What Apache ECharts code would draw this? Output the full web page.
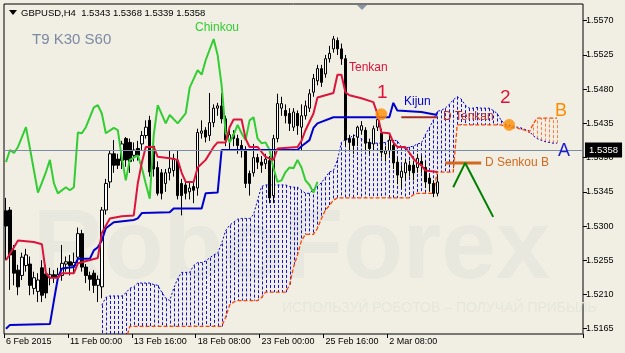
<!DOCTYPE html>
<html><head><meta charset="utf-8">
<script src="https://cdn.jsdelivr.net/npm/echarts@6.0.0/dist/echarts.min.js"></script>
<style>html,body{margin:0;padding:0;background:#f1efe3}#c{width:625px;height:353px}</style>
</head><body><div id="c"></div>
<script>
// ---- category slots (H4 bars incl. future cloud area) ----
const slotCount = 145;
const categories = Array.from({length: slotCount}, (_, i) => String(i));
const tickIdx = [0, 16, 32, 48, 64, 80, 96];
const tickText = ['6 Feb 2015', '11 Feb 00:00', '13 Feb 16:00', '18 Feb 08:00', '23 Feb 00:00', '25 Feb 16:00', '2 Mar 08:00'];
const priceTicks = [1.5165, 1.5210, 1.5255, 1.5300, 1.5345, 1.5390, 1.5435, 1.5480, 1.5525, 1.5570];
const lastPrice = 1.5358;

// ---- candles [open, close, low, high] ----
const ohlc = [
[1.5320,1.5300,1.5255,1.5337],[1.5321,1.5262,1.5216,1.5325],[1.5268,1.5238,1.5222,1.5275],[1.5242,1.5220,1.5209,1.5249],
[1.5235,1.5259,1.5229,1.5265],[1.5248,1.5262,1.5240,1.5270],[1.5250,1.5222,1.5209,1.5260],[1.5218,1.5232,1.5210,1.5240],
[1.5214,1.5229,1.5200,1.5238],[1.5245,1.5209,1.5200,1.5255],[1.5237,1.5212,1.5205,1.5249],[1.5232,1.5236,1.5222,1.5245],
[1.5236,1.5233,1.5225,1.5242],[1.5233,1.5236,1.5225,1.5245],[1.5235,1.5251,1.5228,1.5275],[1.5250,1.5253,1.5240,1.5260],
[1.5253,1.5248,1.5235,1.5262],[1.5248,1.5252,1.5238,1.5265],[1.5259,1.5290,1.5250,1.5298],[1.5290,1.5246,1.5240,1.5295],
[1.5246,1.5235,1.5225,1.5250],[1.5235,1.5230,1.5215,1.5240],[1.5238,1.5222,1.5212,1.5242],[1.5222,1.5230,1.5200,1.5235],
[1.5220,1.5321,1.5205,1.5325],[1.5321,1.5356,1.5315,1.5362],[1.5358,1.5395,1.5350,1.5400],[1.5395,1.5380,1.5370,1.5413],
[1.5388,1.5380,1.5375,1.5395],[1.5386,1.5408,1.5375,1.5412],[1.5415,1.5387,1.5378,1.5417],[1.5410,1.5385,1.5370,1.5415],
[1.5393,1.5400,1.5385,1.5410],[1.5402,1.5393,1.5386,1.5412],[1.5408,1.5419,1.5400,1.5425],[1.5419,1.5430,1.5415,1.5439],
[1.5439,1.5371,1.5365,1.5445],[1.5405,1.5375,1.5365,1.5413],[1.5377,1.5343,1.5340,1.5385],[1.5370,1.5343,1.5335,1.5375],
[1.5356,1.5370,1.5345,1.5375],[1.5370,1.5376,1.5360,1.5399],[1.5373,1.5389,1.5365,1.5395],[1.5386,1.5340,1.5335,1.5400],
[1.5356,1.5340,1.5314,1.5362],[1.5354,1.5343,1.5335,1.5360],[1.5345,1.5350,1.5335,1.5358],[1.5352,1.5347,1.5330,1.5358],
[1.5350,1.5423,1.5340,1.5428],[1.5422,1.5425,1.5415,1.5439],[1.5426,1.5417,1.5410,1.5430],[1.5419,1.5436,1.5412,1.5475],
[1.5436,1.5455,1.5430,1.5460],[1.5455,1.5458,1.5445,1.5462],[1.5458,1.5441,1.5435,1.5475],[1.5441,1.5413,1.5405,1.5445],
[1.5413,1.5420,1.5400,1.5430],[1.5420,1.5415,1.5405,1.5426],[1.5415,1.5406,1.5395,1.5420],[1.5406,1.5399,1.5390,1.5413],
[1.5399,1.5356,1.5350,1.5405],[1.5369,1.5356,1.5340,1.5373],[1.5370,1.5390,1.5365,1.5408],[1.5390,1.5384,1.5375,1.5395],
[1.5384,1.5380,1.5370,1.5392],[1.5382,1.5388,1.5375,1.5395],[1.5386,1.5337,1.5330,1.5392],[1.5340,1.5415,1.5330,1.5420],
[1.5415,1.5461,1.5410,1.5474],[1.5455,1.5461,1.5445,1.5470],[1.5452,1.5445,1.5435,1.5460],[1.5448,1.5435,1.5425,1.5455],
[1.5430,1.5450,1.5425,1.5455],[1.5448,1.5432,1.5420,1.5452],[1.5430,1.5445,1.5400,1.5460],[1.5445,1.5458,1.5440,1.5465],
[1.5455,1.5474,1.5450,1.5480],[1.5476,1.5494,1.5470,1.5500],[1.5491,1.5507,1.5485,1.5512],[1.5507,1.5489,1.5483,1.5512],
[1.5500,1.5520,1.5495,1.5525],[1.5520,1.5527,1.5515,1.5537],[1.5533,1.5546,1.5528,1.5550],[1.5544,1.5533,1.5525,1.5548],
[1.5533,1.5520,1.5512,1.5540],[1.5520,1.5413,1.5405,1.5525],[1.5415,1.5410,1.5400,1.5420],[1.5415,1.5406,1.5395,1.5420],
[1.5417,1.5430,1.5405,1.5432],[1.5426,1.5432,1.5420,1.5438],[1.5426,1.5409,1.5400,1.5430],[1.5410,1.5402,1.5395,1.5415],
[1.5408,1.5428,1.5400,1.5432],[1.5430,1.5440,1.5425,1.5445],[1.5422,1.5397,1.5390,1.5428],[1.5395,1.5399,1.5385,1.5405],
[1.5399,1.5413,1.5393,1.5420],[1.5406,1.5383,1.5375,1.5413],[1.5384,1.5367,1.5355,1.5390],[1.5364,1.5372,1.5350,1.5380],
[1.5370,1.5383,1.5360,1.5388],[1.5380,1.5373,1.5365,1.5386],[1.5380,1.5370,1.5360,1.5386],[1.5377,1.5389,1.5370,1.5395],
[1.5385,1.5380,1.5370,1.5392],[1.5377,1.5358,1.5350,1.5385],[1.5363,1.5356,1.5345,1.5368],[1.5356,1.5343,1.5338,1.5360],
[1.5343,1.5358,1.5339,1.5368]
];

// ---- Ichimoku lines [barIndex, price] ----
const tenkan = [[0,1.5255],[2,1.5272],[3,1.5281],[7,1.5279],[9,1.5276],[10,1.5238],[11,1.5232],[13,1.5232],[14,1.5238],[17,1.5238],[18,1.5251],[23,1.5258],[24,1.5291],[26,1.5310],[29,1.5313],[32,1.5314],[33,1.5356],[34,1.5383],[35,1.5404],[37,1.5404],[38,1.5391],[41,1.5389],[43,1.5387],[44,1.5370],[45,1.5358],[47,1.5358],[48,1.5377],[50,1.5387],[52,1.5404],[53,1.5410],[55,1.5410],[56,1.5430],[57,1.5440],[59,1.5440],[60,1.5415],[61,1.5404],[63,1.5404],[65,1.5391],[67,1.5387],[68,1.5402],[73,1.5404],[74,1.5412],[75,1.5426],[77,1.5448],[78,1.5469],[82,1.5475],[83,1.5499],[84,1.5499],[85,1.5476],[86,1.5472],[89,1.5468],[92,1.5463],[93,1.5448],[94,1.5423],[96,1.5422],[97,1.5410],[98,1.5404],[100,1.5404],[102,1.5389],[103,1.5383],[104,1.5380],[105,1.5373],[108,1.5371]];
const kijun = [[0,1.5165],[1,1.5170],[11,1.5171],[12,1.5202],[13,1.5232],[14,1.5244],[17,1.5246],[18,1.5257],[21,1.5257],[22,1.5268],[23,1.5272],[24,1.5281],[25,1.5297],[27,1.5305],[32,1.5308],[33,1.5310],[34,1.5317],[41,1.5318],[42,1.5323],[49,1.5323],[50,1.5343],[53,1.5344],[54,1.5400],[73,1.5400],[74,1.5405],[76,1.5413],[77,1.5429],[78,1.5435],[82,1.5443],[96,1.5443],[97,1.5462],[98,1.5452],[104,1.5450],[108,1.5446]];
const chinkou = [[0,1.5384],[1,1.5400],[2,1.5396],[3,1.5404],[5,1.5430],[6,1.5402],[7,1.5373],[8,1.5344],[9,1.5357],[10,1.5371],[11,1.5387],[12,1.5356],[13,1.5343],[15,1.5351],[16,1.5347],[17,1.5351],[18,1.5423],[19,1.5422],[20,1.5430],[22,1.5456],[23,1.5459],[24,1.5448],[25,1.5422],[27,1.5429],[28,1.5426],[29,1.5390],[30,1.5360],[31,1.5387],[33,1.5393],[34,1.5377],[35,1.5356],[36,1.5336],[37,1.5420],[38,1.5459],[40,1.5435],[41,1.5446],[43,1.5435],[45,1.5448],[46,1.5482],[48,1.5505],[49,1.5499],[50,1.5518],[52,1.5546],[53,1.5525],[54,1.5485],[55,1.5423],[56,1.5410],[57,1.5420],[58,1.5433],[59,1.5422],[60,1.5413],[61,1.5439],[62,1.5443],[63,1.5415],[64,1.5409],[65,1.5410],[66,1.5400],[67,1.5376],[68,1.5358],[69,1.5360],[70,1.5371],[71,1.5377],[72,1.5376],[73,1.5387],[74,1.5377],[75,1.5360],[76,1.5354],[77,1.5344],[78,1.5358]];

// ---- Senkou spans, one value per bar from cloudStart ----
const cloudStart = 24;
const spanA = [
1.5196,1.5206,1.5208,1.5208,1.5208,1.5208,1.5212,1.5218,1.5220,1.5225,
1.5225,1.5225,1.5225,1.5223,1.5222,1.5213,1.5205,1.5202,1.5218,1.5231,
1.5239,1.5239,1.5239,1.5248,1.5252,1.5252,1.5254,1.5258,1.5262,1.5264,
1.5277,1.5294,1.5301,1.5305,1.5309,1.5310,1.5310,1.5310,1.5315,1.5334,
1.5352,1.5354,1.5354,1.5354,1.5354,1.5354,1.5354,1.5352,1.5351,1.5351,
1.5347,1.5343,1.5343,1.5348,1.5352,1.5357,1.5364,1.5371,1.5373,1.5387,
1.5410,1.5414,1.5415,1.5420,1.5417,1.5415,1.5411,1.5409,1.5409,1.5409,
1.5409,1.5410,1.5413,1.5413,1.5412,1.5404,1.5402,1.5404,1.5405,1.5408,
1.5409,1.5420,1.5429,1.5439,1.5451,1.5452,1.5455,1.5460,1.5466,1.5470,
1.5467,1.5459,1.5455,1.5455,1.5456,1.5455,1.5455,1.5455,1.5452,1.5448,
1.5439,1.5434,1.5433,1.5431,1.5430,1.5429,1.5427,1.5425,1.5419,1.5415,
1.5413,1.5411,1.5410,1.5409,1.5409];
const spanB = [
1.5150,1.5150,1.5150,1.5150,1.5150,1.5150,1.5150,1.5168,1.5168,1.5168,
1.5168,1.5168,1.5168,1.5168,1.5168,1.5168,1.5168,1.5168,1.5168,1.5168,
1.5168,1.5168,1.5168,1.5168,1.5168,1.5168,1.5168,1.5168,1.5168,1.5168,
1.5168,1.5180,1.5196,1.5200,1.5202,1.5202,1.5202,1.5202,1.5202,1.5202,
1.5206,1.5213,1.5213,1.5213,1.5213,1.5213,1.5213,1.5222,1.5246,1.5262,
1.5281,1.5289,1.5289,1.5289,1.5297,1.5310,1.5321,1.5327,1.5334,1.5337,
1.5337,1.5337,1.5337,1.5337,1.5337,1.5337,1.5337,1.5337,1.5337,1.5337,
1.5337,1.5337,1.5337,1.5337,1.5337,1.5337,1.5337,1.5337,1.5341,1.5343,
1.5343,1.5343,1.5343,1.5343,1.5371,1.5371,1.5371,1.5371,1.5371,1.5433,
1.5433,1.5433,1.5433,1.5433,1.5433,1.5433,1.5433,1.5433,1.5433,1.5433,
1.5433,1.5431,1.5430,1.5429,1.5429,1.5427,1.5426,1.5423,1.5434,1.5442,
1.5442,1.5442,1.5442,1.5442,1.5442];

// ---- drawn annotations [barIndex, price] ----
const dTenkan = [[99,1.5443],[108,1.5443]];
const dSenkouB = [[110,1.5383],[119,1.5383]];
const arrowPath = [[112,1.5351],[115,1.5383],[122,1.5312]];
const markers = [[94,1.5447],[126,1.5433]];

const BLUE = '#0000cd', ORANGE = '#ff4500', HATCH_B = '#1010dd', HATCH_O = '#ff7a45';
const FONT = '"Liberation Sans", Arial, sans-serif';

const cloudData = spanA.map((a, k) => [k + cloudStart, a, spanB[k]]);
const chart = echarts.init(document.getElementById('c'));

function line(data, color, width, type, z) {
  return {type: 'line', data, symbol: 'none', silent: true, z: z || 4,
    lineStyle: {color, width, type: type || 'solid'}};
}
function labelFor(v) {
  const k = tickIdx.indexOf(Number(v));
  return k >= 0 ? tickText[k] : '';
}

chart.setOption({
  animation: false,
  backgroundColor: '#f1efe3',
  grid: {left: 4, right: 42, top: 4, bottom: 19, show: true, borderColor: '#000', borderWidth: 1, backgroundColor: 'transparent'},
  xAxis: {
    type: 'category', data: categories, boundaryGap: true,
    axisLine: {show: false},
    axisTick: {show: true, interval: (i) => tickIdx.includes(i), length: 4, lineStyle: {color: '#000'}},
    axisLabel: {interval: 0, hideOverlap: false, showMinLabel: true, showMaxLabel: true,
      formatter: labelFor,
      align: 'left', margin: 3, fontSize: 9, color: '#000', fontFamily: FONT},
    splitLine: {show: false}
  },
  yAxis: {
    type: 'value', position: 'right', min: 1.5158, max: 1.5592, scale: true,
    axisLine: {show: false},
    axisTick: {show: true, customValues: priceTicks, length: 4, lineStyle: {color: '#000'}},
    axisLabel: {customValues: priceTicks, formatter: (v) => v.toFixed(4), margin: 3, fontSize: 9, color: '#000', fontFamily: FONT},
    splitLine: {show: false}
  },
  series: [
    {type: 'custom', silent: true, z: 1, data: cloudData, encode: {x: 0, y: [1, 2]},
      renderItem: function (params, api) {
        const i = api.value(0), a = api.value(1), b = api.value(2);
        const pa = api.coord([i, a]), pb = api.coord([i, b]);
        const cs = params.coordSys;
        const top = cs.y, bot = cs.y + cs.height;
        const y1 = Math.max(top, Math.min(bot, pa[1]));
        const y2 = Math.max(top, Math.min(bot, pb[1]));
        const x = Math.round(pa[0]) + 0.5;
        return {type: 'line', shape: {x1: x, y1: y1, x2: x, y2: y2},
          style: {stroke: a >= b ? HATCH_B : HATCH_O, lineWidth: 1, lineDash: [3, 2]}};
      }},
    line(spanA.map((v, k) => [k + cloudStart, v]), BLUE, 1, [2, 2], 2),
    line(spanB.map((v, k) => [k + cloudStart, v]), ORANGE, 1.3, [4, 2], 2),
    {type: 'candlestick', data: ohlc, barWidth: 3, z: 3, silent: true,
      itemStyle: {color: '#ffffff', color0: '#000000', borderColor: '#000000', borderColor0: '#000000', borderWidth: 1},
      markLine: {silent: true, symbol: 'none', data: [{yAxis: lastPrice}],
        lineStyle: {color: '#7c8da5', width: 1, type: 'solid'},
        label: {show: true, position: 'end', distance: 2, formatter: lastPrice.toFixed(4), color: '#fff',
          backgroundColor: '#000', padding: [3, 4, 2, 4], fontSize: 9.5, fontFamily: FONT}}},
    line(chinkou, '#32cd32', 2),
    line(kijun, BLUE, 2),
    line(tenkan, '#dc143c', 2),
    line(dTenkan, '#a52a2a', 2),
    line(dSenkouB, '#d2691e', 3),
    line(arrowPath, '#008000', 2),
    {type: 'scatter', data: markers, symbolSize: 11, z: 6, silent: true,
      itemStyle: {color: '#ff8c00', borderColor: '#ff9a20', borderWidth: 1}}
  ],
  graphic: [
    {type: 'text', x: 33, y: 300, z: 0, silent: true,
      style: {text: 'RoboForex', font: 'bold 98px ' + FONT, fill: '#e8e8de', verticalAlign: 'bottom'}},
    {type: 'text', x: 282, y: 308, z: 0, silent: true,
      style: {text: 'ИСПОЛЬЗУЙ РОБОТОВ – ПОЛУЧАЙ ПРИБЫЛЬ', font: '14px ' + FONT, fill: '#e6e6dc', verticalAlign: 'middle'}},
    {type: 'polygon', z: 100, shape: {points: [[9, 10], [17, 10], [13, 15]]}, style: {fill: '#000'}},
    {type: 'polygon', z: 100, shape: {points: [[357, 5], [367, 5], [362, 10]]}, style: {fill: '#8a96a8'}},
    {type: 'text', x: 21, y: 13, z: 100, style: {text: 'GBPUSD,H4  1.5343 1.5368 1.5339 1.5358', font: '9.5px ' + FONT, fill: '#000', verticalAlign: 'middle'}},
    {type: 'text', x: 32, y: 40, z: 100, style: {text: 'T9 K30 S60', font: '15px ' + FONT, fill: '#7b8aa3', verticalAlign: 'middle'}},
    {type: 'text', x: 195, y: 28, z: 100, style: {text: 'Chinkou', font: '12px ' + FONT, fill: '#32cd32', verticalAlign: 'middle'}},
    {type: 'text', x: 349, y: 68, z: 100, style: {text: 'Tenkan', font: '12px ' + FONT, fill: '#dc143c', verticalAlign: 'middle'}},
    {type: 'text', x: 377, y: 93, z: 100, style: {text: '1', font: '19px ' + FONT, fill: '#dc143c', verticalAlign: 'middle'}},
    {type: 'text', x: 404, y: 102, z: 100, style: {text: 'Kijun', font: '12px ' + FONT, fill: BLUE, verticalAlign: 'middle'}},
    {type: 'text', x: 443, y: 117, z: 100, style: {text: 'D Tenkan', font: '12px ' + FONT, fill: '#b8312f', verticalAlign: 'middle'}},
    {type: 'text', x: 500, y: 98, z: 100, style: {text: '2', font: '19px ' + FONT, fill: '#dc143c', verticalAlign: 'middle'}},
    {type: 'text', x: 555, y: 111, z: 100, style: {text: 'B', font: '18px ' + FONT, fill: '#ff8c00', verticalAlign: 'middle'}},
    {type: 'text', x: 558, y: 151, z: 100, style: {text: 'A', font: '18px ' + FONT, fill: '#1c1cd0', verticalAlign: 'middle'}},
    {type: 'text', x: 485, y: 163, z: 100, style: {text: 'D Senkou B', font: '12px ' + FONT, fill: '#d2691e', verticalAlign: 'middle'}}
  ]
});
</script></body></html>
